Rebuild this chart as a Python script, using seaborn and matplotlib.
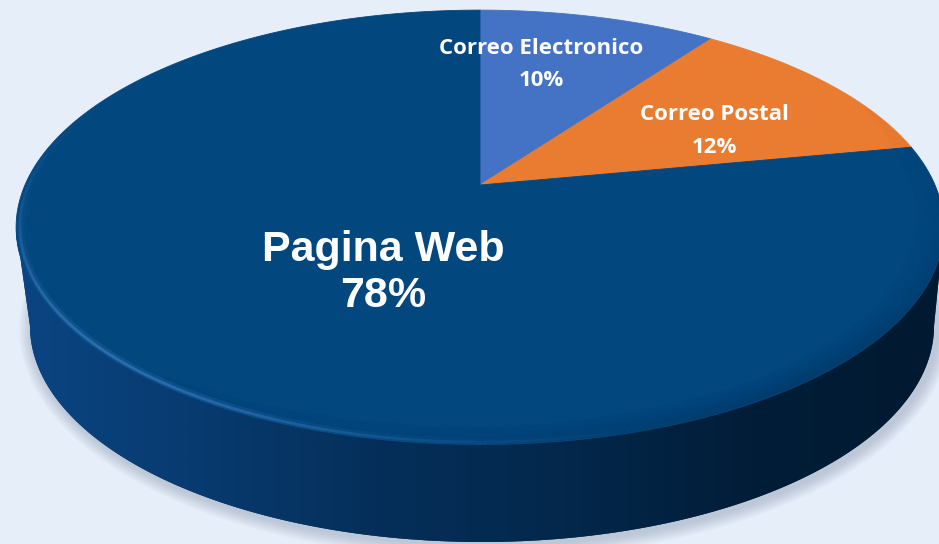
import numpy as np
import matplotlib
matplotlib.use("Agg")
import matplotlib.pyplot as plt
import seaborn as sns
from matplotlib.patches import Polygon
from matplotlib.collections import LineCollection
from matplotlib.colors import LinearSegmentedColormap, to_rgb

# ---------------- data ----------------
categories = ["Correo Electronico", "Correo Postal", "Pagina Web"]
percent = [10, 12, 78]
pct_labels = ["10%", "12%", "78%"]
slice_colors = ["#4472C4", "#E97C30", "#03477F"]

# ---------------- style ----------------
sns.set_style("white")
palette = sns.color_palette(slice_colors)
BG = "#E6EEFA"

W, H = 939, 544
fig = plt.figure(figsize=(W / 100, H / 100), dpi=100)
fig.patch.set_facecolor(BG)
ax = fig.add_axes([0, 0, 1, 1])
ax.set_facecolor(BG)
ax.set_xlim(0, W)
ax.set_ylim(H, 0)
ax.axis("off")

# ---------------- geometry (layout) ----------------
CX, CY = 480, 185          # apex of the pie (top face centre, in perspective)
RX, RY, K = 455, 209, 0.195
BX, BY, BA, BB = 482, 326, 452, 216   # bottom rim ellipse


def top_xy(theta, r=1.0):
    x = r * np.sin(theta)
    y = r * np.cos(theta)
    w = 1 + K * y
    return CX + RX * x / w, CY - RY * y / w


def bottom_xy(phi, grow=0.0):
    return BX + (BA + grow) * np.cos(phi), BY + (BB + grow) * np.sin(phi)


# ---------------- shadow ----------------
for g in range(14, 0, -1):
    phi = np.linspace(0, 2 * np.pi, 400)
    bx, by = bottom_xy(phi, g)
    ax.add_patch(Polygon(np.c_[bx + 3, by + 3], closed=True, fc="#8A97AD",
                         ec="none", alpha=0.035, zorder=1))

# ---------------- side wall ----------------
t0 = np.arccos(-K)
th_side = np.linspace(t0, 2 * np.pi - t0, 400)
sx, sy = top_xy(th_side)
ph = np.linspace(np.pi, 0, 400)
bx, by = bottom_xy(ph)
side_pts = np.r_[np.c_[sx, sy], np.c_[bx, by]]
side_patch = Polygon(side_pts, closed=True, fc="#062E57", ec="none", zorder=2)
ax.add_patch(side_patch)

side_cmap = LinearSegmentedColormap.from_list(
    "side", ["#0B4684", "#083B70", "#052F5A", "#03284C", "#021D38", "#011A31"])
grad = np.tile(np.linspace(0, 1, 512), (8, 1))
im = ax.imshow(grad, extent=[0, W, H, 0], cmap=side_cmap, aspect="auto",
               interpolation="bilinear", zorder=2.1)
im.set_clip_path(side_patch)

# ---------------- top face slices ----------------
total = float(sum(percent))
cum = np.cumsum([0] + percent) / total * 2 * np.pi
for i, cat in enumerate(categories):
    th = np.linspace(cum[i], cum[i + 1], 300)
    x, y = top_xy(th)
    pts = np.r_[[[CX, CY]], np.c_[x, y]]
    ax.add_patch(Polygon(pts, closed=True, fc=palette[i], ec=palette[i],
                         lw=0.6, zorder=3))

# top face clip path
th_all = np.linspace(0, 2 * np.pi, 600)
tx, ty = top_xy(th_all)
top_patch = Polygon(np.c_[tx, ty], closed=True, fill=False, lw=0, zorder=0)
ax.add_patch(top_patch)

# rim shading on top face: dark toward right-front, highlight on left-front
th_rim = np.linspace(0, 2 * np.pi, 720)
deg = np.degrees(th_rim)
dark_w = np.where(deg < 135, np.exp(-((deg - 135) / 38.0) ** 2),
                  np.exp(-((deg - 135) / 50.0) ** 2))

for r in np.linspace(0.94, 1.0, 18):
    a = 0.06 * ((r - 0.93) / 0.07) ** 1.5
    x, y = top_xy(th_rim, r)
    segs = np.stack([np.c_[x[:-1], y[:-1]], np.c_[x[1:], y[1:]]], axis=1)
    cols = np.zeros((len(segs), 4))
    cols[:, 3] = a * dark_w[:-1]
    lc = LineCollection(segs, colors=cols, linewidths=2.5, zorder=4)
    ax.add_collection(lc)
    lc.set_clip_path(top_patch)

hi_w = np.exp(-((deg - 225) / 38.0) ** 2)
hi_rgb = to_rgb("#4A8AD0")
for r, lw, a in [(0.99, 5, 0.18), (0.992, 2.0, 0.5)]:
    x, y = top_xy(th_rim, r)
    segs = np.stack([np.c_[x[:-1], y[:-1]], np.c_[x[1:], y[1:]]], axis=1)
    cols = np.zeros((len(segs), 4))
    cols[:, :3] = hi_rgb
    cols[:, 3] = a * hi_w[:-1]
    lc = LineCollection(segs, colors=cols, linewidths=lw, zorder=4.1)
    ax.add_collection(lc)
    lc.set_clip_path(top_patch)

# ---------------- labels ----------------
small_font = dict(family=["Open Sans", "DejaVu Sans"], weight="bold", size=16)
big_font = dict(family=["Liberation Sans", "DejaVu Sans"], weight="bold", size=31)
label_pos = [(541, 54, 86), (714, 120, 153), (383, 261, 307)]
for i, cat in enumerate(categories):
    x0, y1, y2 = label_pos[i]
    f = big_font if i == 2 else small_font
    ax.text(x0, y1, cat, color="white", ha="center", va="baseline", zorder=6, **f)
    ax.text(x0, y2, pct_labels[i], color="white", ha="center", va="baseline",
            zorder=6, **f)

fig.savefig("out.png", dpi=100, facecolor=BG)
